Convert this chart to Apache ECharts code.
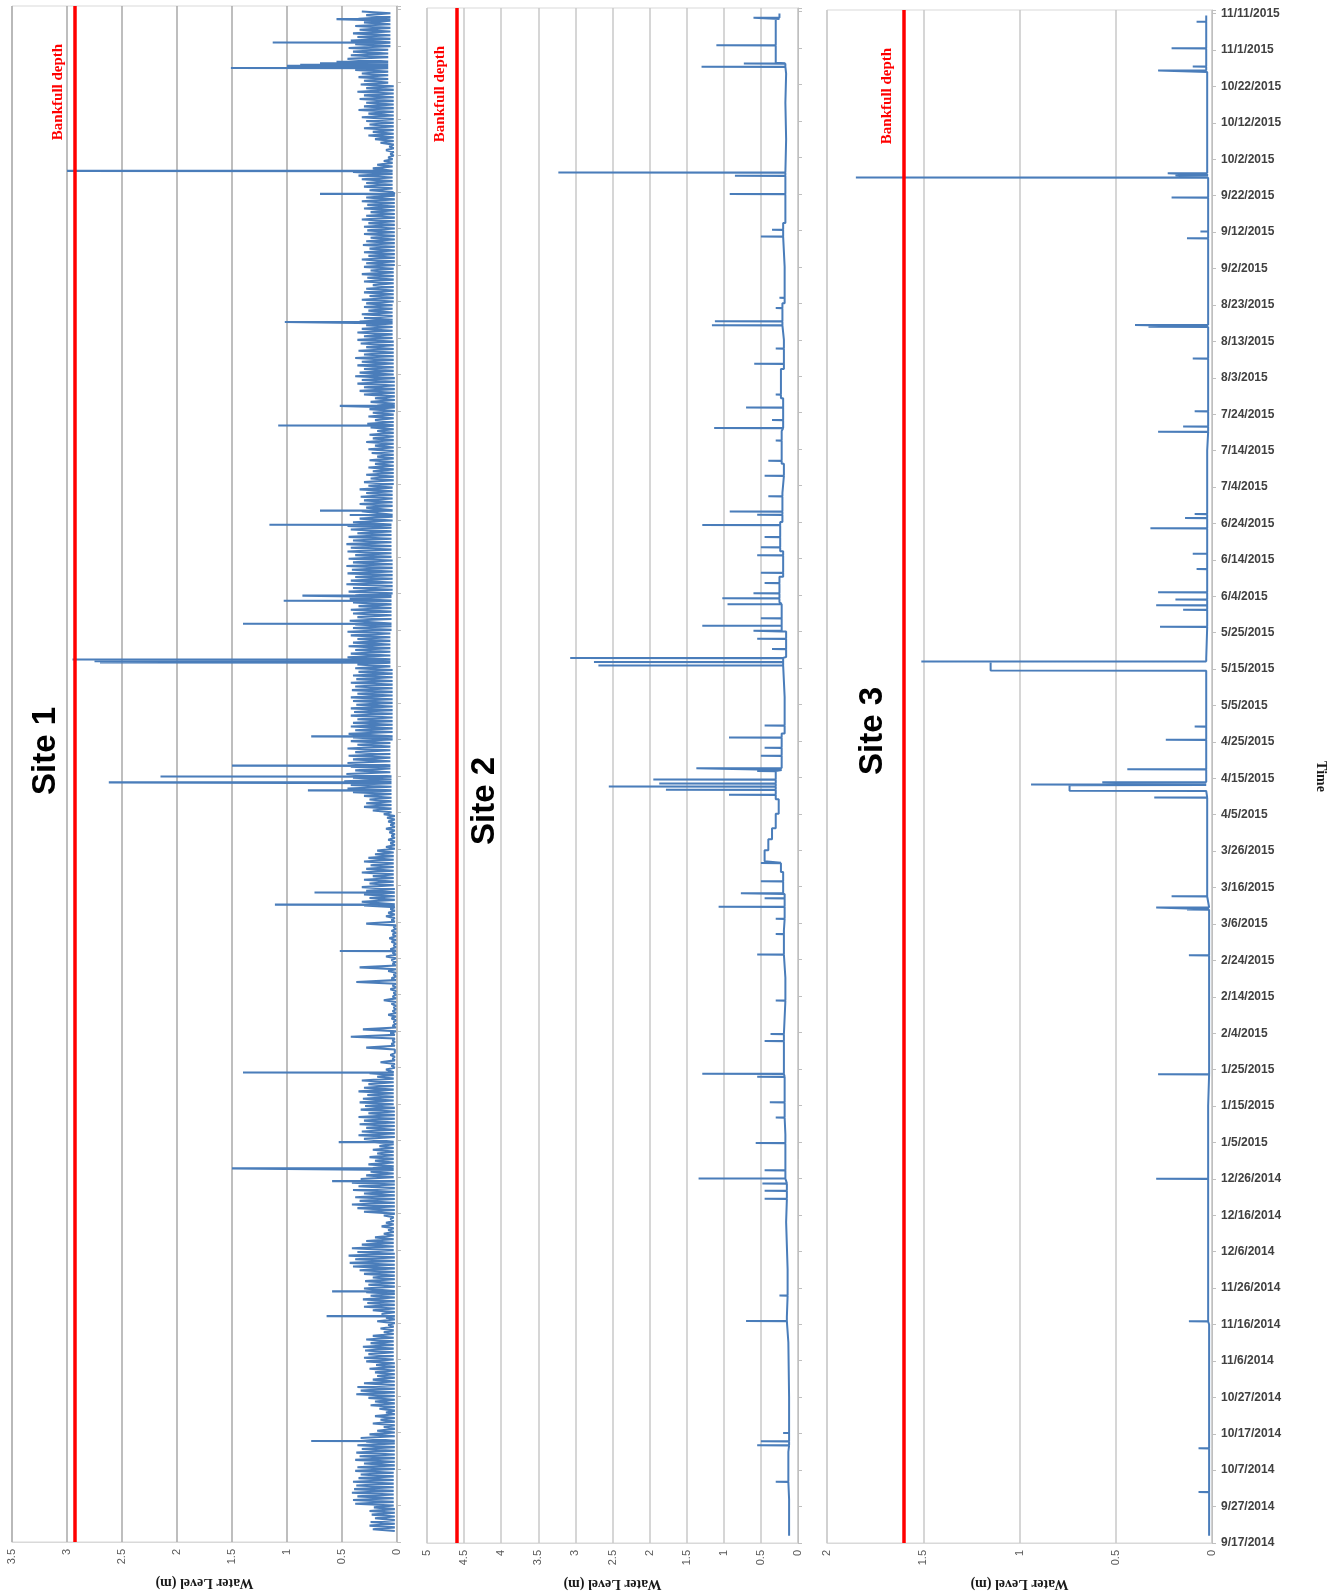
<!DOCTYPE html>
<html><head><meta charset="utf-8">
<script src="https://cdn.jsdelivr.net/npm/echarts@6/dist/echarts.min.js"></script>
<style>html,body{margin:0;padding:0;background:#fff}#c{width:1341px;height:1596px}</style>
</head><body><div id="c"></div>
<script>
// ---------- DATA ----------
// time axis: day offset from 9/17/2014, tick labels every 10 days
const dateLabels = ['9/17/2014','9/27/2014','10/7/2014','10/17/2014','10/27/2014','11/6/2014','11/16/2014','11/26/2014','12/6/2014','12/16/2014','12/26/2014','1/5/2015','1/15/2015','1/25/2015','2/4/2015','2/14/2015','2/24/2015','3/6/2015','3/16/2015','3/26/2015','4/5/2015','4/15/2015','4/25/2015','5/5/2015','5/15/2015','5/25/2015','6/4/2015','6/14/2015','6/24/2015','7/4/2015','7/14/2015','7/24/2015','8/3/2015','8/13/2015','8/23/2015','9/2/2015','9/12/2015','9/22/2015','10/2/2015','10/12/2015','10/22/2015','11/1/2015','11/11/2015'];
const siteNames = ['Site 1', 'Site 2', 'Site 3'];
const valueMax = [3.5, 5, 2];
const bankfull = [2.93, 4.6, 1.6];

// Site 1: daily peak water level (m), index = day
const site1Peak = [
null,null,null,0.22,0.25,0.24,0.20,0.23,0.25,0.21,
0.38,0.40,0.36,0.41,0.39,0.37,0.40,0.35,0.33,0.38,
0.36,0.30,0.38,0.34,0.37,0.32,0.36,0.28,0.33,0.25,
0.18,0.12,0.22,0.15,0.20,0.10,0.16,0.24,0.20,0.26,
0.37,0.33,0.36,0.30,0.22,0.18,0.20,0.25,0.19,0.28,
0.30,0.26,0.29,0.31,0.24,0.28,0.22,0.12,0.15,0.08,
0.18,0.10,0.14,0.22,0.30,0.27,0.31,0.24,0.28,0.30,
0.26,0.29,0.22,0.30,0.34,0.40,0.43,0.38,0.44,0.36,
0.41,0.32,0.28,0.20,0.12,0.08,0.14,0.10,0.06,0.12,
0.30,0.36,0.41,0.34,0.38,0.30,0.40,0.35,0.41,0.33,
0.28,0.24,0.22,0.26,0.20,0.25,0.18,0.22,0.16,0.20,
0.30,0.35,0.32,0.28,0.34,0.30,0.35,0.26,0.33,0.29,
0.34,0.31,0.27,0.35,0.30,0.26,0.32,0.18,0.25,0.10,
0.05,0.15,0.04,0.06,0.03,0.28,0.05,0.04,0.42,0.06,
0.31,0.04,0.03,0.05,0.08,0.04,0.03,0.05,0.12,0.04,
0.03,0.06,0.04,0.37,0.05,0.03,0.08,0.34,0.04,0.05,
0.10,0.04,0.06,0.03,0.05,0.07,0.04,0.05,0.03,0.28,
0.05,0.10,0.08,0.06,0.30,0.32,0.25,0.30,0.28,0.32,
0.25,0.30,0.22,0.32,0.28,0.24,0.30,0.26,0.20,0.18,
0.10,0.06,0.08,0.05,0.07,0.10,0.06,0.08,0.09,0.12,
0.22,0.30,0.28,0.25,0.30,0.40,0.45,0.42,0.48,0.40,
0.46,0.38,0.42,0.45,0.40,0.44,0.38,0.45,0.36,0.42,
0.40,0.44,0.38,0.42,0.40,0.36,0.42,0.39,0.42,0.37,
0.40,0.42,0.36,0.41,0.38,0.42,0.37,0.40,0.35,0.38,
0.36,0.40,0.45,0.42,0.38,0.44,0.40,0.36,0.42,0.45,
0.40,0.38,0.43,0.36,0.40,0.42,0.35,0.40,0.43,0.38,
0.44,0.40,0.46,0.42,0.38,0.45,0.41,0.46,0.40,0.44,
0.38,0.45,0.42,0.46,0.40,0.44,0.36,0.42,0.45,0.40,
0.34,0.30,0.32,0.28,0.34,0.30,0.33,0.28,0.34,0.26,
0.30,0.24,0.28,0.22,0.26,0.20,0.25,0.18,0.23,0.26,
0.20,0.28,0.22,0.25,0.18,0.24,0.27,0.20,0.26,0.22,
0.25,0.18,0.24,0.20,0.30,0.34,0.30,0.36,0.32,0.38,
0.34,0.30,0.36,0.32,0.38,0.30,0.35,0.28,0.33,0.36,
0.30,0.36,0.32,0.28,0.34,0.30,0.32,0.26,0.30,0.28,
0.32,0.25,0.30,0.28,0.22,0.30,0.27,0.32,0.24,0.30,
0.28,0.32,0.26,0.30,0.25,0.31,0.28,0.24,0.30,0.27,
0.30,0.26,0.32,0.28,0.24,0.30,0.27,0.32,0.28,0.30,
0.25,0.30,0.28,0.32,0.35,0.40,0.22,0.18,0.12,0.08,
0.06,0.10,0.07,0.15,0.20,0.26,0.22,0.30,0.25,0.28,
0.32,0.26,0.35,0.30,0.28,0.34,0.30,0.36,0.28,0.33,
0.30,0.35,0.32,0.38,0.48,0.50,0.45,0.42,0.40,0.44,
0.38,0.42,0.36,0.40,0.34,0.38,0.30,0.35,0.28,0.32,
null];
// Site 1: low (base) level per 10-day block
const site1Base = [0.02,0.03,0.02,0.02,0.02,0.03,0.02,0.02,0.03,0.02,
0.03,0.02,0.03,0.02,0.01,0.01,0.01,0.02,0.03,0.02,
0.05,0.06,0.04,0.04,0.06,0.05,0.04,0.05,0.04,0.03,
0.03,0.02,0.03,0.04,0.03,0.02,0.02,0.04,0.03,0.03,
0.08,0.06,0.05];
// Site 1: storm peaks [day, level]
const site1Spikes = [[27.7,0.78],[61.9,0.64],[68.7,0.59],[98.9,0.59],[102.4,1.5],[109.6,0.53],[128.7,1.40],[162,0.52],[174.7,1.11],[178,0.75],[206,0.81],[208.2,2.62],[209.8,2.15],[212.8,1.5],[220.8,0.78],[241.1,2.7],[241.4,2.75],[241.9,2.95],[251.7,1.40],[258,1.03],[259.4,0.86],[278.8,1.16],[281.5,0.43],[282.7,0.70],[306,1.08],[311.4,0.52],[334.4,1.02],[369.5,0.70],[375.8,3.0],[404,1.51],[404.6,1.0],[404.9,0.88],[405.3,0.7],[405.7,0.55],[411,1.13],[417.4,0.55]];

// Site 2: baseline breakpoints (day, level) and storm peaks
const site2BaseDay = [2,12,25,40,55,62,75,88,100,112,128,140,155,168,178,184,187,190,193,196,200,204,212,222,232,243,250,258,265,272,280,288,296,305,314,322,330,340,350,362,376,385,395,403,406,418,419.5];
const site2BaseVal = [0.12,0.13,0.12,0.13,0.15,0.14,0.16,0.15,0.17,0.18,0.19,0.17,0.19,0.18,0.2,0.23,0.45,0.4,0.35,0.3,0.26,0.3,0.22,0.18,0.2,0.16,0.22,0.25,0.2,0.24,0.21,0.19,0.22,0.2,0.23,0.19,0.21,0.18,0.2,0.17,0.16,0.17,0.16,0.17,0.3,0.25,0.25];
const site2Spikes = [[16.8,0.3],[26.8,0.55],[27.9,0.5],[30.2,0.2],[60.9,0.7],[67.9,0.25],[94.4,0.45],[96.6,0.45],[98.6,0.48],[100,1.34],[102.2,0.45],[109.7,0.57],[116.7,0.3],[120.9,0.38],[127.9,0.55],[128.7,1.29],[137.7,0.45],[139.6,0.37],[148.8,0.3],[161.4,0.55],[167,0.3],[171.2,0.3],[174.5,1.07],[176.8,0.45],[178.2,0.77],[181.5,0.5],[186.5,0.5],[205.2,0.93],[206.6,1.78],[207.5,2.55],[208.3,1.87],[209.4,1.95],[211.7,0.55],[212.5,1.37],[215.9,0.5],[218.1,0.45],[220.9,0.93],[224.2,0.45],[240.7,2.69],[241.6,2.75],[242.7,3.07],[245.2,0.35],[248,0.55],[250.2,0.6],[251.6,1.29],[253.6,0.5],[257.5,0.95],[259.1,1.02],[260.5,0.6],[263.3,0.45],[266.1,0.5],[270.9,0.55],[273.1,0.5],[275.9,0.45],[279.2,1.29],[282,0.55],[282.9,0.92],[287.1,0.4],[292.7,0.45],[296.8,0.4],[302.4,0.3],[305.8,1.13],[308,0.35],[311.4,0.7],[315,0.3],[323.4,0.59],[327.6,0.3],[334,1.16],[335.1,1.12],[338.7,0.3],[341.5,0.25],[358.3,0.5],[360.2,0.35],[370,0.92],[375,0.85],[375.9,3.23],[404.9,1.3],[405.8,0.73],[410.8,1.1],[418.3,0.6]];
const site2Plateaus = [];

// Site 3: baseline breakpoints, storm peaks, and held levels [start, end, level]
const site3BaseDay = [2,60,120,175,205,243,300,376,404,419.5];
const site3BaseVal = [0.015,0.02,0.015,0.025,0.03,0.025,0.02,0.025,0.03,0.03];
const site3Spikes = [[14,0.07],[26,0.07],[60.9,0.12],[100,0.29],[128.7,0.28],[161.4,0.12],[174,0.13],[174.5,0.29],[177.6,0.21],[204.7,0.3],[208.3,0.94],[208.9,0.57],[212.5,0.44],[220.6,0.24],[224.2,0.09],[242.1,1.51],[251.6,0.27],[256.3,0.15],[257.5,0.29],[259.1,0.19],[261.1,0.28],[267.5,0.08],[271.7,0.1],[278.7,0.32],[281.5,0.14],[282.6,0.09],[305.2,0.28],[306.6,0.15],[310.8,0.09],[325.3,0.1],[334,0.33],[334.5,0.4],[358.3,0.13],[360.2,0.06],[369.5,0.21],[375,1.85],[375.6,0.19],[376.2,0.23],[404.4,0.28],[405.5,0.1],[410.5,0.21],[417.8,0.08]];
const site3Plateaus = [[239.6,242.0,1.15],[206.6,208.1,0.74]];

// ---------- LAYOUT ----------
const grids = [
  {left: 12, top: 6, width: 385, height: 1536},
  {left: 427, top: 8, width: 371, height: 1535},
  {left: 827, top: 10, width: 385, height: 1534}
];
const siteLabelPos = [[46, 751], [485, 801], [873, 731]];
const gridColors = ['#a8a8a8', '#c9c9c9', '#c9c9c9'];
const lineWidths = [2.1, 2, 2];

// ---------- BUILDERS ----------
function buildDaily(peaks, baseBlocks, spikes) {
  const pts = [];
  peaks.forEach((p, i) => {
    if (p == null) return;
    const b = baseBlocks[Math.floor(i / 10)];
    pts.push([b, i], [p, i + 0.5]);
  });
  spikes.forEach(([d, v]) => {
    const b = baseBlocks[Math.floor(d / 10)];
    pts.push([b, d - 0.06], [v, d], [b, d + 0.06]);
  });
  pts.sort((a, b) => a[1] - b[1]);
  return pts;
}
function buildStep(bDays, bVals, spikes, plateaus) {
  const footAt = d => { let v = bVals[0]; for (let i = 0; i < bDays.length; i++) { if (bDays[i] <= d) v = bVals[i]; } return v; };
  const pts = [];
  bDays.forEach((d, i) => { if (i > 0) pts.push([bVals[i - 1], d]); pts.push([bVals[i], d]); });
  spikes.forEach(([d, v]) => { const f = footAt(d); pts.push([f, d - 0.06], [v, d], [f, d + 0.06]); });
  plateaus.forEach(([d0, d1, v]) => { pts.push([footAt(d0), d0 - 0.06], [v, d0], [v, d1], [footAt(d1), d1 + 0.06]); });
  pts.sort((a, b) => a[1] - b[1]);
  return pts;
}
const seriesData = [
  buildDaily(site1Peak, site1Base, site1Spikes),
  buildStep(site2BaseDay, site2BaseVal, site2Spikes, site2Plateaus),
  buildStep(site3BaseDay, site3BaseVal, site3Spikes, site3Plateaus)
];

// ---------- CHART ----------
const chart = echarts.init(document.getElementById('c'), null, {renderer: 'canvas'});
const option = {
  animation: false,
  backgroundColor: '#ffffff',
  grid: grids.map(g => Object.assign({show: true, borderColor: '#d9d9d9', borderWidth: 1, backgroundColor: 'transparent'}, g)),
  xAxis: grids.map((g, k) => ({
    gridIndex: k, type: 'value', inverse: true, min: 0, max: valueMax[k], interval: 0.5, position: 'bottom',
    axisLine: {show: true, onZero: false, lineStyle: {color: '#d9d9d9', width: 1}},
    axisTick: {show: false},
    splitLine: {show: true, lineStyle: {color: gridColors[k], width: 1.5}},
    axisLabel: {rotate: 90, margin: 7, color: '#595959', fontSize: 11, fontFamily: 'Liberation Sans'},
    name: 'Water Level (m)', nameLocation: 'middle', nameGap: 34, nameRotate: 180,
    nameTextStyle: {fontFamily: 'Liberation Serif', fontWeight: 'bold', fontSize: 14, color: '#1a1a1a'}
  })),
  yAxis: grids.map((g, k) => ({
    gridIndex: k, type: 'value', min: 0, max: 421, interval: 10, position: 'right',
    axisLine: {show: true, onZero: false, lineStyle: {color: '#bfbfbf'}},
    axisTick: {show: true, length: 4, lineStyle: {color: '#bfbfbf'}},
    splitLine: {show: false},
    axisLabel: {show: k === 2, margin: 9, color: '#404040', fontSize: 12, fontWeight: 'bold', fontFamily: 'Liberation Sans',
      formatter: v => (v % 10 === 0 && dateLabels[v / 10]) ? dateLabels[v / 10] : ''},
    name: k === 2 ? 'Time' : '', nameLocation: 'middle', nameRotate: -90, nameGap: 102,
    nameTextStyle: {fontFamily: 'Liberation Serif', fontWeight: 'bold', fontSize: 14, color: '#1a1a1a'}
  })),
  series: seriesData.map((d, k) => ({
    type: 'line', xAxisIndex: k, yAxisIndex: k, data: d, showSymbol: false, symbol: 'none',
    lineStyle: {color: '#4a7dba', width: lineWidths[k]}, silent: true,
    markLine: {silent: true, symbol: ['none', 'none'], label: {show: false},
      lineStyle: {color: '#ff0000', width: 3.5, type: 'solid'}, data: [{xAxis: bankfull[k]}]}
  }))
};
chart.setOption(option);

const gfx = [];
siteNames.forEach((name, k) => {
  gfx.push({type: 'text', x: siteLabelPos[k][0], y: siteLabelPos[k][1], rotation: Math.PI / 2,
    style: {text: name, font: 'bold 33px "Liberation Sans"', fill: '#000000', textAlign: 'center', textVerticalAlign: 'middle', align: 'center', verticalAlign: 'middle'}});
});
bankfull.forEach((b, k) => {
  const px = chart.convertToPixel({xAxisIndex: k}, b);
  gfx.push({type: 'text', x: px - 17, y: grids[k].top + 86, rotation: Math.PI / 2,
    style: {text: 'Bankfull depth', font: 'bold 15px "Liberation Serif"', fill: '#ff0000', textAlign: 'center', textVerticalAlign: 'middle', align: 'center', verticalAlign: 'middle'}});
});
chart.setOption({graphic: gfx});
</script>
</body></html>
